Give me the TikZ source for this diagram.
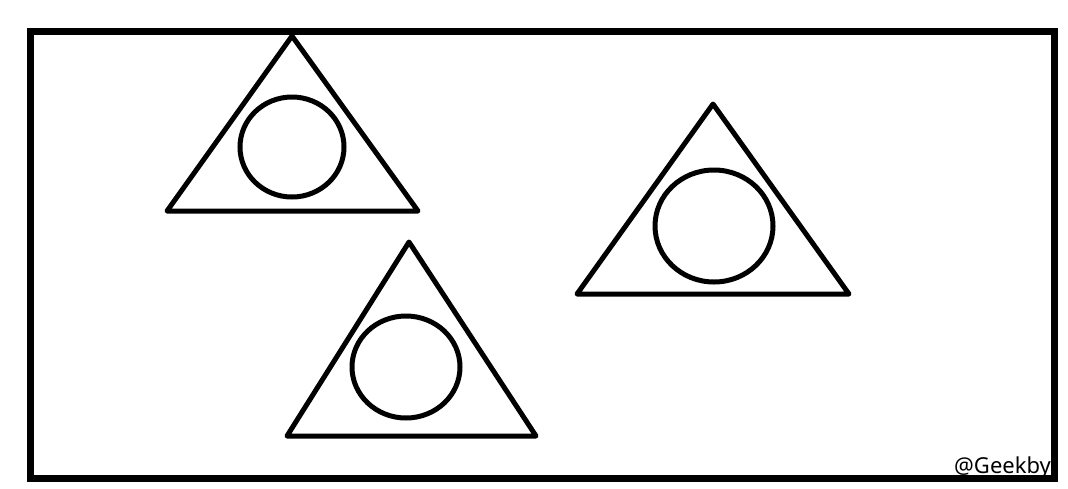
\documentclass[tikz,border=0pt]{standalone}
\usepackage{fontspec}
\newfontfamily\wmfont{Noto Sans}
\begin{document}
\begin{tikzpicture}[x=1pt,y=-1pt,
  tri/.style={draw=black,line width=5pt,line join=round},
  ring/.style={draw=black,line width=5pt},
  frame/.style={draw=black,line width=7pt,line join=miter}]
\useasboundingbox (0,0) rectangle (1068,488);
\node[anchor=base west,inner sep=0pt,font=\wmfont\fontsize{22}{24}\selectfont] (wm) at (954,473) {@Geekby};
\draw[tri] (292,36) -- (418,211) -- (167,211) -- cycle;
\draw[ring] (292,147) ellipse [x radius=52, y radius=50];
\draw[tri] (409,242) -- (536,436) -- (287,436) -- cycle;
\draw[ring] (406,367) ellipse [x radius=54, y radius=51];
\draw[tri] (713,104) -- (849,294) -- (577,294) -- cycle;
\draw[ring] (714,226) ellipse [x radius=59, y radius=56];
\draw[frame] (30.5,31.5) rectangle (1054.5,478.5);
\end{tikzpicture}
\end{document}
